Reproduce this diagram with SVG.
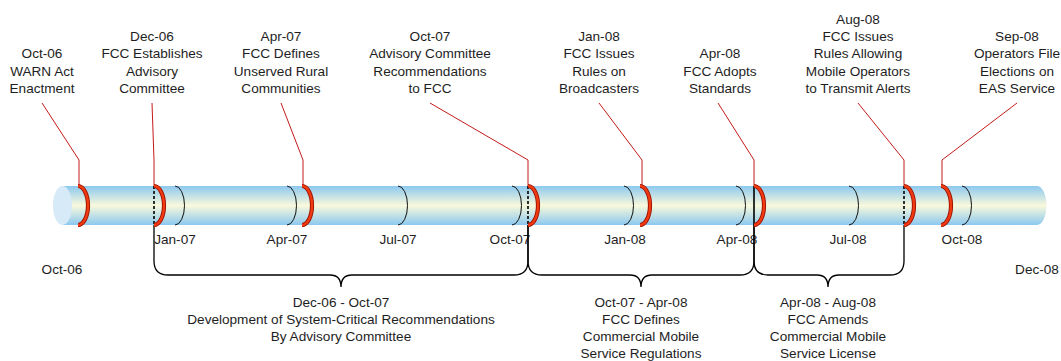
<svg xmlns="http://www.w3.org/2000/svg" width="1061" height="361" viewBox="0 0 1061 361">
<defs>
<linearGradient id="tubeGrad" x1="0" y1="0" x2="0" y2="1">
<stop offset="0" stop-color="#8cc8ef"/>
<stop offset="0.5" stop-color="#f9f9dc"/>
<stop offset="1" stop-color="#8cc8ef"/>
</linearGradient>
<style>
text{font-family:"Liberation Sans",Arial,sans-serif;font-size:13.6px;fill:#1e1e1e;text-anchor:middle}
.lead{fill:none;stroke:#c41a1a;stroke-width:1}
.tick{fill:none;stroke:#111;stroke-width:1}
.evO{fill:none;stroke:#9a1200;stroke-width:4.2}
.evI{fill:none;stroke:#f23a12;stroke-width:2.4}
.dash{stroke:#000;stroke-width:1.6;stroke-dasharray:3,2}
.solid{stroke:#000;stroke-width:1.6}
.brace{fill:none;stroke:#000;stroke-width:1.3}
</style>
</defs>
<g id="tube">
<path d="M62.5,186 H1037 A9.5,19.5 0 0 1 1037,225 H62.5 Z" fill="url(#tubeGrad)"/>
<ellipse cx="62.5" cy="205.5" rx="9.5" ry="19.5" fill="#d6eaf7"/>
</g>
<g id="ticks">
<path class="tick" d="M175,186 A9.5,19.5 0 0 1 175,225"/>
<path class="tick" d="M287,186 A9.5,19.5 0 0 1 287,225"/>
<path class="tick" d="M398,186 A9.5,19.5 0 0 1 398,225"/>
<path class="tick" d="M512,186 A9.5,19.5 0 0 1 512,225"/>
<path class="tick" d="M624,186 A9.5,19.5 0 0 1 624,225"/>
<path class="tick" d="M736,186 A9.5,19.5 0 0 1 736,225"/>
<path class="tick" d="M849,186 A9.5,19.5 0 0 1 849,225"/>
<path class="tick" d="M962,186 A9.5,19.5 0 0 1 962,225"/>
<text x="175" y="244">Jan-07</text>
<text x="287" y="244">Apr-07</text>
<text x="398" y="244">Jul-07</text>
<text x="510" y="244">Oct-07</text>
<text x="625" y="244">Jan-08</text>
<text x="737" y="244">Apr-08</text>
<text x="848" y="244">Jul-08</text>
<text x="962" y="244">Oct-08</text>
<text x="62" y="274">Oct-06</text>
<text x="1037" y="274">Dec-08</text>
</g>
<g id="connectors">
<line class="dash" x1="154" y1="186" x2="154" y2="225"/>
<line class="dash" x1="528" y1="186" x2="528" y2="225"/>
<line class="solid" x1="754" y1="186" x2="754" y2="225"/>
<line class="dash" x1="904" y1="186" x2="904" y2="225"/>
<polyline class="lead" points="42,103 79,160 79,186"/>
<polyline class="lead" points="152,103 154,160 154,186"/>
<polyline class="lead" points="281,103 303,160 303,186"/>
<polyline class="lead" points="430,103 528,160 528,186"/>
<polyline class="lead" points="599,103 642,160 642,186"/>
<polyline class="lead" points="718,103 754,160 754,186"/>
<polyline class="lead" points="858,103 904,160 904,186"/>
<polyline class="lead" points="1017,103 942,160 942,186"/>
<path class="brace" d="M154,225 V261 Q154,275 168,275 H330 Q341,275 341,287 Q341,275 352,275 H514 Q528,275 528,261 V225"/>
<path class="brace" d="M528,225 V261 Q528,275 542,275 H630 Q641,275 641,287 Q641,275 652,275 H740 Q754,275 754,261 V225"/>
<path class="brace" d="M754,225 V261 Q754,275 768,275 H817 Q828,275 828,287 Q828,275 839,275 H890 Q904,275 904,261 V225"/>
</g>
<g id="ev-oct06">
<path class="evO" d="M78,186 A10,19.5 0 0 1 78,225"/><path class="evI" d="M78,186 A10,19.5 0 0 1 78,225"/>
<text x="42" y="58.3">Oct-06</text><text x="42" y="75.6">WARN Act</text><text x="42" y="92.9">Enactment</text>
</g>
<g id="ev-dec06">
<path class="evO" d="M154,186 A10,19.5 0 0 1 154,225"/><path class="evI" d="M154,186 A10,19.5 0 0 1 154,225"/>
<text x="152" y="41">Dec-06</text><text x="152" y="58.3">FCC Establishes</text><text x="152" y="75.6">Advisory</text><text x="152" y="92.9">Committee</text>
</g>
<g id="ev-apr07">
<path class="evO" d="M302,186 A10,19.5 0 0 1 302,225"/><path class="evI" d="M302,186 A10,19.5 0 0 1 302,225"/>
<text x="281" y="41">Apr-07</text><text x="281" y="58.3">FCC Defines</text><text x="281" y="75.6">Unserved Rural</text><text x="281" y="92.9">Communities</text>
</g>
<g id="ev-oct07">
<path class="evO" d="M528,186 A10,19.5 0 0 1 528,225"/><path class="evI" d="M528,186 A10,19.5 0 0 1 528,225"/>
<text x="430" y="41">Oct-07</text><text x="430" y="58.3">Advisory Committee</text><text x="430" y="75.6">Recommendations</text><text x="430" y="92.9">to FCC</text>
</g>
<g id="ev-jan08">
<path class="evO" d="M640,186 A10,19.5 0 0 1 640,225"/><path class="evI" d="M640,186 A10,19.5 0 0 1 640,225"/>
<text x="599" y="41">Jan-08</text><text x="599" y="58.3">FCC Issues</text><text x="599" y="75.6">Rules on</text><text x="599" y="92.9">Broadcasters</text>
</g>
<g id="ev-apr08">
<path class="evO" d="M754,186 A10,19.5 0 0 1 754,225"/><path class="evI" d="M754,186 A10,19.5 0 0 1 754,225"/>
<text x="720" y="58.3">Apr-08</text><text x="720" y="75.6">FCC Adopts</text><text x="720" y="92.9">Standards</text>
</g>
<g id="ev-aug08">
<path class="evO" d="M904,186 A10,19.5 0 0 1 904,225"/><path class="evI" d="M904,186 A10,19.5 0 0 1 904,225"/>
<text x="858" y="23.7">Aug-08</text><text x="858" y="41">FCC Issues</text><text x="858" y="58.3">Rules Allowing</text><text x="858" y="75.6">Mobile Operators</text><text x="858" y="92.9">to Transmit Alerts</text>
</g>
<g id="ev-sep08">
<path class="evO" d="M941,186 A10,19.5 0 0 1 941,225"/><path class="evI" d="M941,186 A10,19.5 0 0 1 941,225"/>
<text x="1017" y="41">Sep-08</text><text x="1017" y="58.3">Operators File</text><text x="1017" y="75.6">Elections on</text><text x="1017" y="92.9">EAS Service</text>
</g>
<g id="span-dev">
<text x="341" y="306.5">Dec-06 - Oct-07</text><text x="341" y="323.8">Development of System-Critical Recommendations</text><text x="341" y="341.1">By Advisory Committee</text>
</g>
<g id="span-defines">
<text x="641" y="306.5">Oct-07 - Apr-08</text><text x="641" y="323.8">FCC Defines</text><text x="641" y="341.1">Commercial Mobile</text><text x="641" y="358.4">Service Regulations</text>
</g>
<g id="span-amends">
<text x="828" y="306.5">Apr-08 - Aug-08</text><text x="828" y="323.8">FCC Amends</text><text x="828" y="341.1">Commercial Mobile</text><text x="828" y="358.4">Service License</text>
</g>
</svg>
